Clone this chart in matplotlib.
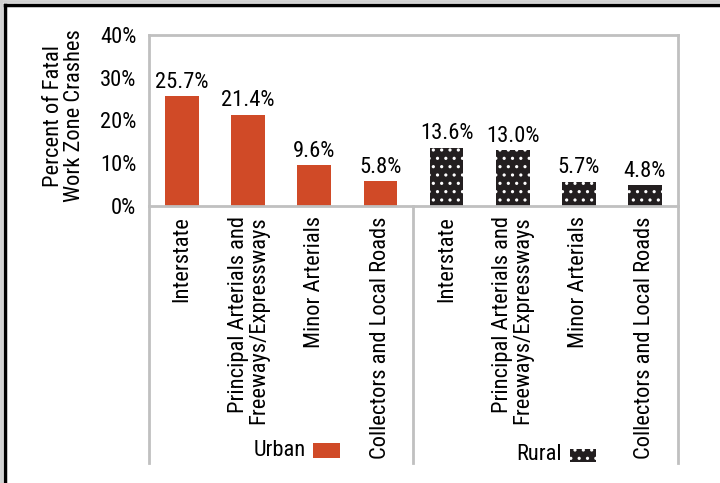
import matplotlib
matplotlib.use("Agg")
import matplotlib.pyplot as plt
from matplotlib.patches import Rectangle
from matplotlib.lines import Line2D
import numpy as np

plt.rcParams["font.family"] = ["Roboto Condensed", "Liberation Sans", "DejaVu Sans"]
plt.rcParams["hatch.linewidth"] = 1.1

categories = ["Interstate", "Principal Arterials and\nFreeways/Expressways",
              "Minor Arterials", "Collectors and Local Roads"]
urban = [25.7, 21.4, 9.6, 5.8]
rural = [13.6, 13.0, 5.7, 4.8]
yticks = [0, 10, 20, 30, 40]

RED = "#d04a27"
DARK = "#231f20"
GRID = "#c0c0c0"
FS = 16.2

fig = plt.figure(figsize=(7.2, 4.83), dpi=100)
ax = fig.add_axes([149 / 720, 1 - 206 / 483, 529 / 720, 171 / 483])

x = np.arange(8)
ax.bar(x[:4], urban, width=0.51, color=RED, zorder=2)
ax.bar(x[4:], rural, width=0.51, facecolor=DARK, edgecolor="white",
       linewidth=0, hatch="..", zorder=2)

for xi, v in zip(x, urban + rural):
    ax.text(xi, v + 0.8, f"{v:.1f}%", ha="center", va="bottom", fontsize=FS)

ax.set_xlim(-0.5, 7.5)
ax.set_ylim(0, 40)
ax.set_yticks(yticks)
ax.set_yticklabels([f"{t}%" for t in yticks], fontsize=FS)
ax.tick_params(axis="y", length=0, pad=9)
ax.set_xticks([])
for s in ax.spines.values():
    s.set_color(GRID)
    s.set_linewidth(2)

# category labels below the axis
for xi, lab in zip(x, categories + categories):
    ax.text(xi, -2.4, lab, rotation=90, ha="center", va="top",
            multialignment="right", fontsize=FS, linespacing=0.95)

# vertical separators in category area
for px in [149, 413, 678]:
    fig.add_artist(Line2D([px / 720, px / 720], [1 - 206 / 483, 1 - 463 / 483],
                          color=GRID, lw=2))

fig.text(64 / 720, 1 - 116 / 483, "Percent of Fatal\nWork Zone Crashes",
         rotation=90, ha="center", va="center", fontsize=FS, linespacing=1.0)

# legends
fig.text(306 / 720, 1 - 450 / 483, "Urban", ha="right", va="center", fontsize=FS)
fig.add_artist(Rectangle((313 / 720, 1 - 458 / 483), 27 / 720, 15 / 483,
                         facecolor=RED, edgecolor="none"))
fig.text(562 / 720, 1 - 455 / 483, "Rural", ha="right", va="center", fontsize=FS)
fig.add_artist(Rectangle((570 / 720, 1 - 462 / 483), 26 / 720, 13 / 483,
                         facecolor=DARK, edgecolor="white", linewidth=0, hatch=".."))

# outer frame (top and left)
fig.add_artist(Line2D([4.5 / 720, 1], [1 - 4.5 / 483, 1 - 4.5 / 483], color="black", lw=2.5))
fig.add_artist(Line2D([4.5 / 720, 4.5 / 720], [0, 1 - 4.5 / 483], color="black", lw=2.5))
fig.add_artist(Line2D([0, 1], [1 - 1 / 483, 1 - 1 / 483], color="#d0d0d0", lw=2))
fig.add_artist(Line2D([1 / 720, 1 / 720], [0, 1], color="#d0d0d0", lw=2))

fig.savefig("out.png", dpi=100)
